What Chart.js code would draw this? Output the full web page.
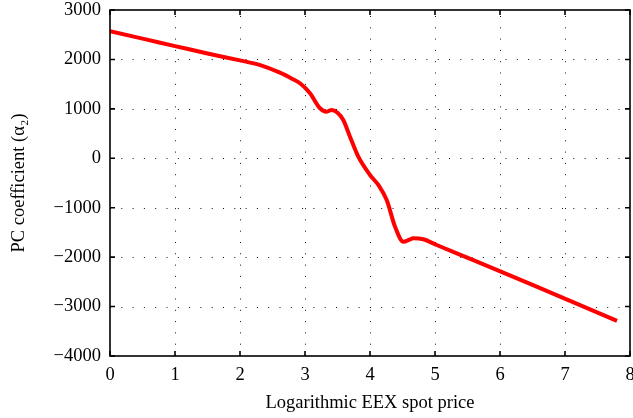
<!DOCTYPE html>
<html>
<head>
<meta charset="utf-8">
<script src="https://cdn.jsdelivr.net/npm/chart.js@4/dist/chart.umd.min.js"></script>
<style>
  html, body { margin: 0; padding: 0; background: #fff; }
  #wrap { width: 633px; height: 418px; }
</style>
</head>
<body>
<div id="wrap"><canvas id="c" width="633" height="418"></canvas></div>
<script>
// Logarithmic spot price (x) and PC coefficient alpha_2 (y)
const priceX = [0, 0.5, 1, 1.5, 2, 2.3, 2.615, 2.8, 2.923, 3.077, 3.231, 3.334, 3.411, 3.5, 3.589, 3.692, 3.82, 4.0, 4.128, 4.257, 4.385, 4.512, 4.6, 4.666, 4.82, 5.026, 5.59, 6.5, 7.8];
const coeffY = [2570, 2420, 2270, 2120, 1980, 1890, 1732, 1610, 1517, 1315, 1012, 943, 977, 920, 775, 437, 32, -338, -540, -844, -1384, -1687, -1650, -1618, -1639, -1754, -2060, -2560, -3290];

const xTicks = [0, 1, 2, 3, 4, 5, 6, 7, 8];
const yTicks = [-4000, -3000, -2000, -1000, 0, 1000, 2000, 3000];

const FONT = 'Liberation Serif, Times New Roman, serif';

// Dotted grid, axis box and inward tick marks on all four sides
const boxPlugin = {
  id: 'boxPlugin',
  beforeDatasetsDraw(chart) {
    const { ctx, chartArea: a, scales: { x, y } } = chart;
    ctx.save();
    ctx.strokeStyle = '#111';
    ctx.lineWidth = 1;
    ctx.setLineDash([1, 10.3]);
    xTicks.forEach(v => {
      if (v === xTicks[0] || v === xTicks[xTicks.length - 1]) return;
      const px = Math.round(x.getPixelForValue(v)) + 0.5;
      ctx.beginPath(); ctx.moveTo(px, a.bottom); ctx.lineTo(px, a.top); ctx.stroke();
    });
    yTicks.forEach(v => {
      if (v === yTicks[0] || v === yTicks[yTicks.length - 1]) return;
      const py = Math.round(y.getPixelForValue(v)) + 0.5;
      ctx.beginPath(); ctx.moveTo(a.left, py); ctx.lineTo(a.right, py); ctx.stroke();
    });
    ctx.restore();
  },
  afterDatasetsDraw(chart) {
    const { ctx, chartArea: a, scales: { x, y } } = chart;
    ctx.save();
    ctx.strokeStyle = '#000';
    ctx.lineWidth = 1.6;
    ctx.setLineDash([]);
    ctx.strokeRect(a.left, a.top, a.right - a.left, a.bottom - a.top);
    const L = 5;
    ctx.beginPath();
    xTicks.forEach(v => {
      const px = x.getPixelForValue(v);
      ctx.moveTo(px, a.bottom); ctx.lineTo(px, a.bottom - L);
      ctx.moveTo(px, a.top); ctx.lineTo(px, a.top + L);
    });
    yTicks.forEach(v => {
      const py = y.getPixelForValue(v);
      ctx.moveTo(a.left, py); ctx.lineTo(a.left + L, py);
      ctx.moveTo(a.right, py); ctx.lineTo(a.right - L, py);
    });
    ctx.stroke();
    ctx.restore();
  }
};

const minus = v => String(v).replace('-', '\u2212');

new Chart(document.getElementById('c'), {
  type: 'scatter',
  data: {
    datasets: [{
      data: priceX.map((v, i) => ({ x: v, y: coeffY[i] })),
      showLine: true,
      borderColor: '#ff0000',
      borderWidth: 4,
      pointRadius: 0,
      cubicInterpolationMode: 'monotone',
      fill: false
    }]
  },
  options: {
    responsive: false,
    animation: false,
    events: [],
    layout: { padding: { top: 10, right: 3, left: 0, bottom: 0 } },
    plugins: { legend: { display: false }, tooltip: { enabled: false } },
    scales: {
      x: {
        type: 'linear',
        min: 0, max: 8,
        afterBuildTicks: s => { s.ticks = xTicks.map(v => ({ value: v })); },
        afterFit: s => { s.height = 62; s.paddingLeft = 0; s.paddingRight = 0; },
        grid: { display: false, drawTicks: false },
        border: { display: false },
        ticks: {
          color: '#000', padding: 8, maxRotation: 0, autoSkip: false,
          font: { family: FONT, size: 18.5 },
          callback: v => minus(v)
        },
        title: {
          display: true, text: 'Logarithmic EEX spot price', color: '#000',
          font: { family: FONT, size: 18.5 }, padding: { top: 0, bottom: 4 }
        }
      },
      y: {
        type: 'linear',
        min: -4000, max: 3000,
        afterBuildTicks: s => { s.ticks = yTicks.map(v => ({ value: v })); },
        afterFit: s => { s.width = 110; s.paddingTop = 0; s.paddingBottom = 0; },
        grid: { display: false, drawTicks: false },
        border: { display: false },
        ticks: {
          color: '#000', padding: 9, autoSkip: false,
          font: { family: FONT, size: 18.5 },
          callback: v => minus(v)
        },
        title: {
          display: true, text: 'PC coefficient (\u03b1\u2082)', color: '#000',
          font: { family: FONT, size: 18.5 }, padding: { top: 8, bottom: 0 }
        }
      }
    }
  },
  plugins: [boxPlugin]
});
</script>
</body>
</html>
